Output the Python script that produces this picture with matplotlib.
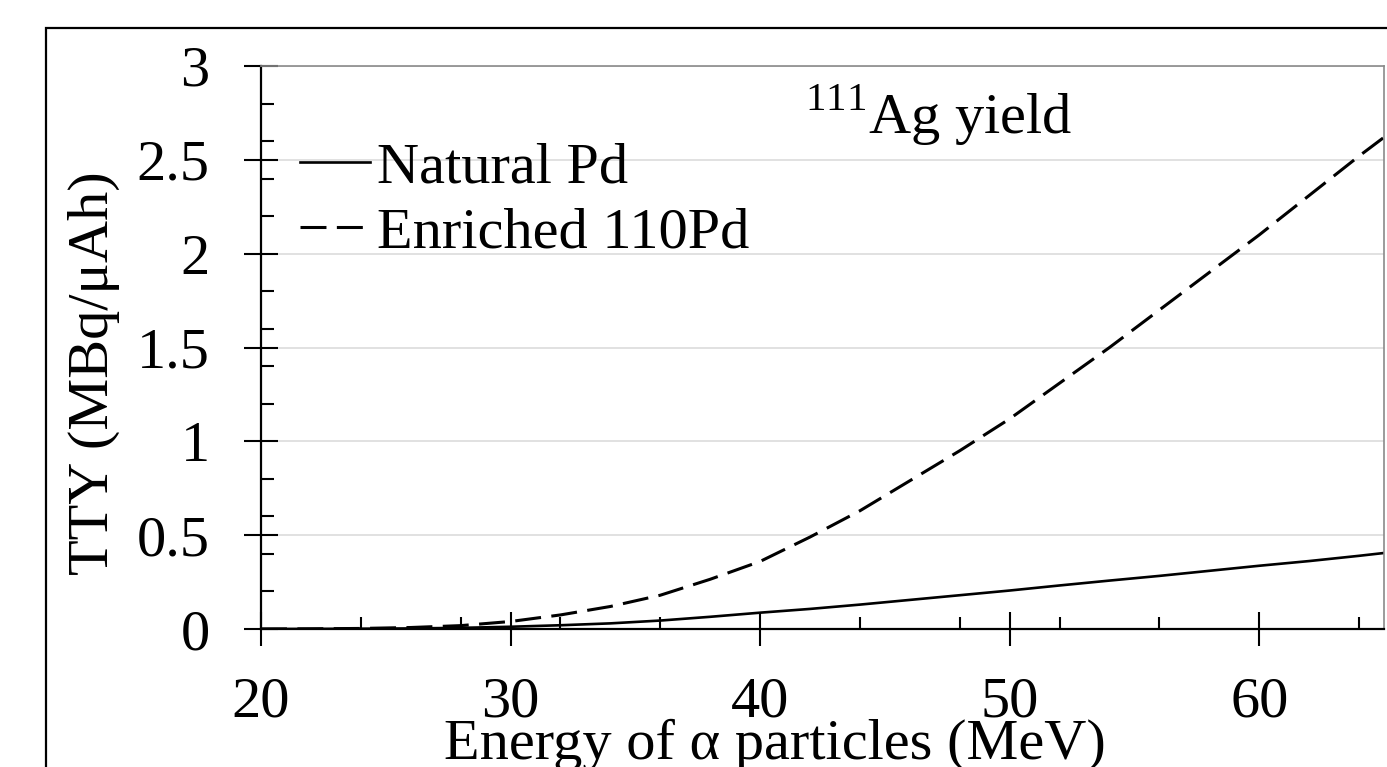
import numpy as np
import matplotlib
matplotlib.use('Agg')
import matplotlib.pyplot as plt
from matplotlib.patches import Rectangle
from matplotlib.ticker import MultipleLocator

plt.rcParams['font.family'] = ['Liberation Serif', 'DejaVu Serif']
plt.rcParams['mathtext.fontset'] = 'custom'
plt.rcParams['mathtext.rm'] = 'Liberation Serif'

# alpha energy (MeV)
energy = [20, 22, 24, 26, 28, 30, 32, 34, 36, 38, 40, 42, 44, 46, 48, 50,
          52, 54, 56, 58, 60, 62, 64, 65]
# thick target yield, MBq/uAh
natural_pd = [0.0, 0.0005, 0.0015, 0.003, 0.006, 0.012, 0.02, 0.03, 0.045, 0.065, 0.087, 0.107,
              0.13, 0.155, 0.18, 0.205, 0.232, 0.258, 0.283, 0.31, 0.337, 0.362, 0.39, 0.405]
enriched_pd = [0.0, 0.001, 0.003, 0.008, 0.018, 0.04, 0.075, 0.12, 0.18, 0.265, 0.36, 0.49,
               0.63, 0.79, 0.95, 1.12, 1.31, 1.50, 1.70, 1.90, 2.10, 2.31, 2.52, 2.62]

W, H = 1387, 767
fig = plt.figure(figsize=(W / 100, H / 100), dpi=100)
ax = fig.add_axes([261 / W, 1 - 629 / H, (1384 - 261) / W, (629 - 66) / H])

fs = 42
ax.plot(energy, natural_pd, color='black', lw=1.9, label='Natural Pd')
ax.plot(energy, enriched_pd, color='black', lw=2.2, dashes=(8.5, 3.4), label='Enriched 110Pd')

ax.set_xlim(20, 65)
ax.set_ylim(0, 3)
ax.xaxis.set_major_locator(MultipleLocator(10))
ax.xaxis.set_minor_locator(MultipleLocator(4))
ax.yaxis.set_major_locator(MultipleLocator(0.5))
ax.yaxis.set_minor_locator(MultipleLocator(0.2))
ax.set_yticks([0, 0.5, 1, 1.5, 2, 2.5, 3])
ax.set_yticklabels(['0', '0.5', '1', '1.5', '2', '2.5', '3'])
ax.grid(axis='y', which='major', color='#dcdcdc', lw=1.2)
ax.set_axisbelow(True)

ax.tick_params(which='major', direction='inout', length=24, width=1.5, labelsize=fs, color='black')
ax.tick_params(axis='x', which='major', pad=22)
ax.tick_params(axis='y', which='major', pad=25)
ax.tick_params(which='minor', direction='in', length=9, width=1.5, color='black')

for s in ['left', 'bottom']:
    ax.spines[s].set_linewidth(1.6)
    ax.spines[s].set_color('black')
for s in ['top', 'right']:
    ax.spines[s].set_linewidth(1.2)
    ax.spines[s].set_color('#8a8a8a')

leg = ax.legend(loc='upper left', bbox_to_anchor=(0.014, 0.907), frameon=False, fontsize=fs,
                handlelength=1.2, handletextpad=0.12, labelspacing=0.2, borderaxespad=0)

fig.text(805 / W, 1 - 133 / H, r'$^{111}$Ag yield', fontsize=fs, ha='left', va='baseline')

fig.text(775 / W, 1 - 759 / H, 'Energy of α particles (MeV)', fontsize=fs, ha='center', va='baseline')
fig.text(94 / W, 1 - 373 / H, 'TTY (MBq/μAh)', fontsize=fs, ha='center', va='center', rotation=90)

# outer chart border, cut by the picture edge
fig.patches.append(Rectangle((46 / W, -0.1), 1.2, 1 - 28 / H + 0.1, transform=fig.transFigure,
                             fill=False, edgecolor='black', lw=1.6))

fig.savefig('out.png', dpi=100)
